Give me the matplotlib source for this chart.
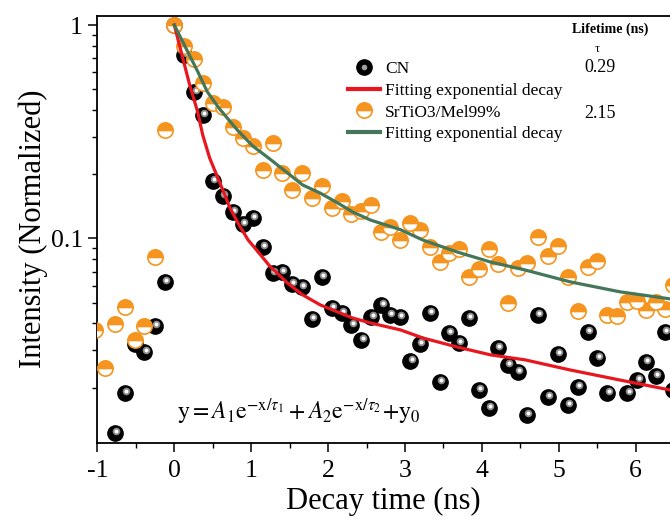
import matplotlib
matplotlib.use("Agg")
import matplotlib.pyplot as plt
import numpy as np
from matplotlib.lines import Line2D
from matplotlib.legend_handler import HandlerTuple
from matplotlib.ticker import FixedLocator, NullFormatter, FixedFormatter
from matplotlib.transforms import offset_copy

plt.rcParams["font.family"] = ["Liberation Serif", "DejaVu Serif"]
plt.rcParams["mathtext.fontset"] = "stix"
plt.rcParams["axes.unicode_minus"] = False

# decay time grid (ns), shared by both samples
TIME = [-1.03, -0.90, -0.77, -0.64, -0.51, -0.39, -0.25, -0.12, 0.00, 0.13,
        0.26, 0.37, 0.50, 0.63, 0.76, 0.89, 1.02, 1.15, 1.28, 1.40,
        1.53, 1.66, 1.79, 1.92, 2.05, 2.18, 2.30, 2.43, 2.56, 2.69,
        2.80, 2.93, 3.07, 3.19, 3.32, 3.45, 3.57, 3.70, 3.83, 3.96,
        4.09, 4.21, 4.34, 4.47, 4.58, 4.73, 4.86, 4.99, 5.12, 5.25,
        5.38, 5.50, 5.63, 5.76, 5.89, 6.02, 6.13, 6.26, 6.38, 6.49]

CN = [np.nan, np.nan, 0.0123, 0.0189, 0.0321, 0.0294, 0.0389, 0.0626, 1.0, 0.724,
      0.486, 0.379, 0.186, 0.158, 0.133, 0.117, 0.125, 0.0912, 0.0689, 0.0697,
      0.0612, 0.0593, 0.0420, 0.0660, 0.0473, 0.0448, 0.0393, 0.0335, 0.0429, 0.0488,
      0.0438, 0.0429, 0.0267, 0.0321, 0.0448, 0.0213, 0.0361, 0.0324, 0.0424, 0.0195,
      0.0161, 0.0307, 0.0256, 0.0237, 0.0149, 0.0438, 0.0181, 0.0288, 0.0166, 0.0202,
      0.0365, 0.0276, 0.0189, np.nan, 0.0189, 0.0217, 0.0264, 0.0227, 0.0365, 0.0195]

SRTIO3 = [0.0373, 0.0247, 0.0398, 0.0478, 0.0335, 0.0389, 0.0819, 0.322, 1.0, 0.797,
          0.693, 0.535, 0.431, 0.413, 0.333, 0.296, 0.271, 0.209, 0.280, 0.203,
          0.169, 0.203, 0.155, 0.176, 0.139, 0.150, 0.130, 0.1345, 0.1436, 0.1073,
          0.1132, 0.0984, 0.1182, 0.1096, 0.0912, 0.0776, 0.0855, 0.0893, 0.0660, 0.0720,
          0.0893, 0.0760, 0.0499, 0.0728, 0.0768, 0.1016, 0.0828, 0.0922, 0.0660, 0.0457,
          0.0736, 0.0784, 0.0438, 0.0434, 0.0504, 0.0510, 0.0462, 0.0504, 0.0467, 0.0606]

# fitted curves
FIT_CN_X = [0.0, 0.11, 0.20, 0.30, 0.37, 0.46, 0.63, 0.72, 0.84, 0.96, 1.08, 1.24,
            1.47, 1.67, 1.90, 2.12, 2.32, 2.55, 2.94, 3.23, 3.68, 4.11, 4.56, 5.15,
            5.80, 6.45]
FIT_CN_Y = [1.0, 0.700, 0.524, 0.396, 0.305, 0.238, 0.169, 0.140, 0.116, 0.0984,
            0.0874, 0.0743, 0.0619, 0.0544, 0.0488, 0.0453, 0.0424, 0.0402, 0.0373,
            0.0342, 0.0310, 0.0285, 0.0270, 0.0242, 0.0217, 0.0195]

FIT_SR_X = [0.0, 0.17, 0.30, 0.43, 0.59, 0.82, 1.02, 1.24, 1.47, 1.67, 1.90, 2.12,
            2.32, 2.55, 2.94, 3.23, 3.68, 4.11, 4.56, 5.15, 5.80, 6.45]
FIT_SR_Y = [1.0, 0.755, 0.610, 0.486, 0.404, 0.322, 0.271, 0.236, 0.203, 0.178,
            0.163, 0.147, 0.133, 0.122, 0.110, 0.0984, 0.0864, 0.0776, 0.0712,
            0.0626, 0.0562, 0.0521]

LIFETIMES = ["0.29", "2.15"]
LABELS = ["CN", "Fitting exponential decay", "SrTiO3/Mel99%", "Fitting exponential decay"]

ORANGE = "#f5951f"
RED = "#e8171f"
GREEN = "#44775a"

fig = plt.figure(figsize=(6.7, 5.2), dpi=100)
W, H = 670, 520
ax = fig.add_axes([97.4 / W, (H - 442.5) / H, (W - 97.4) / W, (442.5 - 16) / H])

ms = 11
ax.plot(TIME, CN, "o", ls="none", color="black", ms=ms, zorder=3)
hl = offset_copy(ax.transData, fig=fig, x=1.0, y=1.6, units="points")
ax.plot(TIME, CN, "o", ls="none", color="#8a8a8a", mec="none", ms=5.5, transform=hl, zorder=3.1)
ax.plot(TIME, CN, "o", ls="none", color="white", mec="none", ms=2.8, transform=hl, zorder=3.2)

ax.plot(TIME, SRTIO3, "o", ls="none", ms=ms, fillstyle="top", markerfacecolor=ORANGE,
        markerfacecoloralt="white", markeredgecolor=ORANGE, markeredgewidth=1.2, zorder=4)

ax.plot(FIT_CN_X, FIT_CN_Y, color=RED, lw=2.3, zorder=5)
ax.plot(FIT_SR_X, FIT_SR_Y, color=GREEN, lw=2.3, zorder=5)

ax.set_yscale("log")
ax.set_xlim(-1, 6.446)
ax.set_ylim(0.01107, 1.102)

ax.xaxis.set_major_locator(FixedLocator(range(-1, 7)))
ax.xaxis.set_minor_locator(FixedLocator(np.arange(-0.5, 6.5, 1.0)))
ax.yaxis.set_major_locator(FixedLocator([0.1, 1]))
ax.yaxis.set_major_formatter(FixedFormatter(["0.1", "1"]))
ax.yaxis.set_minor_locator(FixedLocator([k * 0.01 for k in range(2, 10)] + [k * 0.1 for k in range(2, 10)]))
ax.yaxis.set_minor_formatter(NullFormatter())

ax.tick_params(which="major", direction="out", length=6.5, width=1.1, labelsize=18.5, pad=4)
ax.tick_params(which="minor", direction="out", length=3.5, width=1.0)
ax.tick_params(axis="x", which="major", pad=6)
for s in ["left", "bottom", "top"]:
    ax.spines[s].set_linewidth(1.3)
ax.spines["right"].set_visible(False)

ax.set_xlabel("Decay time (ns)", fontsize=22, labelpad=4)
ax.set_ylabel("Intensity (Normalized)", fontsize=22, labelpad=2)

fig.text(177 / W, 1 - 412 / H,
         r"$\mathrm{y} = A_1\mathrm{e}^{-\mathrm{x}/\tau_1} + A_2\mathrm{e}^{-\mathrm{x}/\tau_2}\!+\!\mathrm{y}_0$",
         fontsize=17, va="center", ha="left")

# legend
ball = Line2D([], [], marker="o", ls="none", color="black", ms=ms)
ball_hl = Line2D([], [], marker="o", ls="none", color="#a0a0a0", mec="none", ms=4)
half = Line2D([], [], marker="o", ls="none", ms=ms, fillstyle="top", markerfacecolor=ORANGE,
              markerfacecoloralt="white", markeredgecolor=ORANGE, markeredgewidth=1.2)
red_l = Line2D([], [], color=RED, lw=3)
green_l = Line2D([], [], color=GREEN, lw=3)
fig.legend([(ball, ball_hl), red_l, half, green_l], LABELS,
           handler_map={tuple: HandlerTuple(ndivide=1)},
           loc="upper left", bbox_to_anchor=(348 / W, 1 - 61 / H), frameon=False,
           fontsize=12.5, handlelength=1.85, handletextpad=0.3, labelspacing=0.32,
           borderpad=0, borderaxespad=0)

fig.text(610 / W, 1 - 29 / H, "Lifetime (ns)", fontsize=10, fontweight="bold", ha="center", va="center")
fig.text(597 / W, 1 - 49 / H, "τ", fontsize=9, ha="center", va="center")
fig.text(600 / W, 1 - 68 / H, LIFETIMES[0], fontsize=13, ha="center", va="center")
fig.text(600 / W, 1 - 113 / H, LIFETIMES[1], fontsize=13, ha="center", va="center")

fig.savefig("out.png", dpi=100)
